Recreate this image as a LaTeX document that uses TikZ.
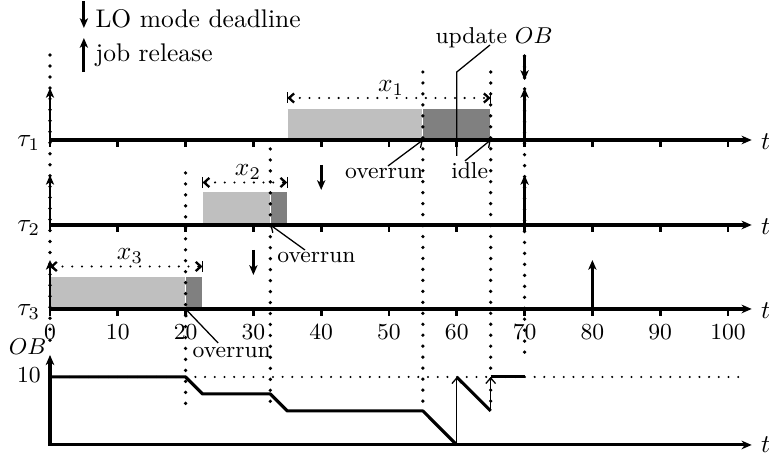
\documentclass[tikz,border=0pt]{standalone}
\usetikzlibrary{arrows.meta}
\begin{document}
\begin{tikzpicture}[x=2.658pt,y=-0.392pt,
  axis/.style={line width=1.2pt,-{Stealth[length=4pt,width=3.4pt]}},
  tickmark/.style={line width=1.1pt},
  rel/.style={line width=1.1pt,-{Stealth[length=3.8pt,width=3.2pt,inset=1pt]}},
  vdots/.style={line width=1.45pt,line cap=round,dash pattern=on 0pt off 4.3pt},
  hdots/.style={line width=0.9pt,line cap=round,dash pattern=on 0pt off 3.8pt},
  lightbar/.style={fill=black!25,draw=white,line width=0.4pt},
  darkbar/.style={fill=black!50,draw=white,line width=0.4pt},
  ann/.style={font=\small,inner sep=0pt},
  lbl/.style={inner sep=0pt},
  ptr/.style={line width=0.5pt,-{Straight Barb[length=2.2pt,width=3.8pt]}},
  dim/.style={hdots,{Straight Barb[length=2pt,width=3.6pt]}-{Straight Barb[length=2pt,width=3.6pt]}},
  dimbar/.style={line width=0.6pt},
  curve/.style={line width=1.2pt,line join=round}]
\useasboundingbox (-7.375,0) rectangle (106.05,461);

% execution bars
\path[lightbar] (35,108) rectangle (55,140);
\path[darkbar] (55,108) rectangle (65,140);
\path[lightbar] (22.5,192) rectangle (32.5,225);
\path[darkbar] (32.5,192) rectangle (35,225);
\path[lightbar] (0,277) rectangle (20,309);
\path[darkbar] (20,277) rectangle (22.5,309);

% vertical dotted guide lines
\draw[vdots] (0,55) -- (0,350);
\draw[vdots] (20,173) -- (20,410);
\draw[vdots] (32.5,149) -- (32.5,410);
\draw[vdots] (55,72) -- (55,410);
\draw[vdots] (65,72) -- (65,410);
\draw[vdots] (70,56) -- (70,358);
\draw[hdots] (0,377) -- (102.8,377);

% task axes
\foreach \y/\n in {140/1,225/2,309/3} {
  \draw[axis] (0,\y) -- (103.5,\y);
  \foreach \t in {0,10,...,100} \draw[tickmark] (\t,\y) -- (\t,\y+7);
  \node[lbl,anchor=base west] (tau\n) at (-4.87,\y+7) {$\tau_\n$};
  \node[lbl,anchor=base west] (tlab\n) at (104.8,\y+10) {$t$};
}
\foreach \t in {0,10,...,100} \node[ann,anchor=base] (num\t) at (\t,340) {\t};

% OB axes
\draw[line width=1.2pt,{Stealth[length=4pt,width=3.4pt]}-{Stealth[length=4pt,width=3.4pt]}] (0,355) |- (103.5,445);
\node[ann,anchor=base] (oblabel) at (-3.3,355) {$OB$};
\node[ann,anchor=base] (ten) at (-3.1,383) {10};
\node[lbl,anchor=base west] (tlab4) at (104.8,453) {$t$};

% OB curve
\coordinate (o0) at (0,377);
\coordinate (o1) at (20,377);
\coordinate (o2) at (22.5,394);
\coordinate (o3) at (32.5,394);
\coordinate (o4) at (35,411);
\coordinate (o5) at (55,411);
\coordinate (o6) at (60,445);
\coordinate (o7) at (60,377);
\coordinate (o8) at (65,411);
\coordinate (o9) at (65,377);
\coordinate (o10) at (70,377);
\draw[curve] (o0) -- (o1) -- (o2) -- (o3) -- (o4) -- (o5) -- (o6);
\draw[curve] (o7) -- (o8);
\draw[curve] (o9) -- (o10);
\draw[ptr] (o6) -- (o7);
\draw[ptr] (o8) -- (o9);

% job releases
\foreach \t/\y/\h in {0/140/88,70/140/88,0/225/175,70/225/175,0/309/260,80/309/260}
  \draw[rel] (\t,\y) -- (\t,\h);
% LO mode deadlines
\draw[rel] (70,55) -- (70,80);
\draw[rel] (40,165) -- (40,190);
\draw[rel] (30,250) -- (30,275);

% legend
\draw[rel] (5,1) -- (5,28);
\draw[rel] (5,72) -- (5,38);
\node[lbl,anchor=base west] (lg1) at (6.64,27) {LO mode deadline};
\node[lbl,anchor=base west] (lg2) at (6.64,61.5) {job release};

% budgets x_i
\draw[dim] (35,98) -- (65,98);
\draw[dimbar] (35,92.5) -- (35,103.5);
\draw[dimbar] (65,92.5) -- (65,103.5);
\node[lbl,anchor=base] (x1) at (50.3,91.5) {$x_1$};
\draw[dim] (22.5,182.5) -- (35,182.5);
\draw[dimbar] (22.5,177) -- (22.5,188);
\draw[dimbar] (35,177) -- (35,188);
\node[lbl,anchor=base] (x2) at (29.2,176) {$x_2$};
\draw[dim] (0,266.5) -- (22.5,266.5);
\draw[dimbar] (22.5,261) -- (22.5,272);
\node[lbl,anchor=base] (x3) at (11.8,260) {$x_3$};

% annotations
\node[ann,anchor=base] (ov1) at (49.3,179) {overrun};
\coordinate (ov1s) at (49.85,166);
\coordinate (ov1e) at (55,140);
\draw[ptr] (ov1s) -- (ov1e);
\node[ann,anchor=base] (idle) at (61.9,179) {idle};
\coordinate (idles) at (61.2,161);
\coordinate (idlee) at (65,140);
\draw[ptr] (idles) -- (idlee);
\node[ann,anchor=base] (ov2) at (39.3,263) {overrun};
\coordinate (ov2s) at (37.6,250);
\coordinate (ov2e) at (32.5,225);
\draw[ptr] (ov2s) -- (ov2e);
\node[ann,anchor=base] (ov3) at (26.8,358) {overrun};
\coordinate (ov3s) at (24.8,343);
\coordinate (ov3e) at (20,309);
\draw[ptr] (ov3s) -- (ov3e);
\node[ann,anchor=base] (upd) at (65.5,43) {update $OB$};
\coordinate (upds) at (64.9,45);
\coordinate (updk) at (60,72);
\coordinate (upde) at (60,156);
\draw[line width=0.5pt] (upds) -- (updk) -- (upde);
\end{tikzpicture}
\end{document}
